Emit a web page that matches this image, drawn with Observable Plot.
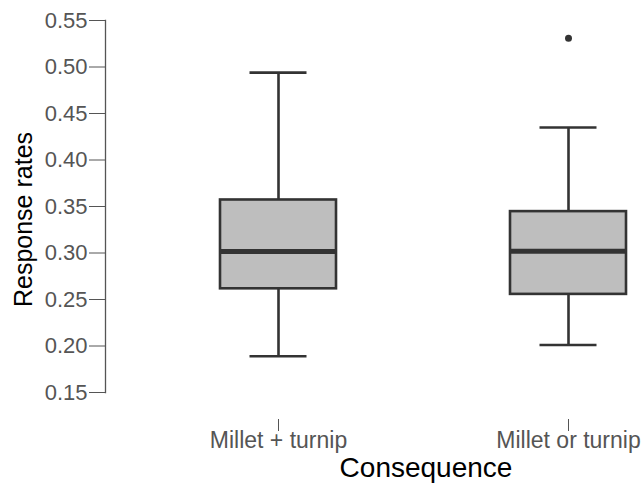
<!DOCTYPE html>
<html>
<head>
<meta charset="utf-8">
<script src="https://cdn.jsdelivr.net/npm/d3@7"></script>
<script src="https://cdn.jsdelivr.net/npm/@observablehq/plot@0.6"></script>
<style>
  html, body { margin: 0; padding: 0; background: #fff; }
  #chart svg { display: block; }
</style>
</head>
<body>
<div id="chart"></div>
<script>
const categories = ["Millet + turnip", "Millet or turnip"];
const lowerWhisker = [0.189, 0.201];
const q1 = [0.2615, 0.2555];
const median = [0.3015, 0.302];
const q3 = [0.357, 0.3445];
const upperWhisker = [0.494, 0.435];
const outlierCategory = ["Millet or turnip"];
const outlierValue = [0.531];
const yTicks = [0.15, 0.20, 0.25, 0.30, 0.35, 0.40, 0.45, 0.50, 0.55];

const boxes = categories.map((c, i) => ({
  cat: c, lo: lowerWhisker[i], q1: q1[i], med: median[i], q3: q3[i], hi: upperWhisker[i]
}));
const outliers = outlierCategory.map((c, i) => ({cat: c, v: outlierValue[i]}));

const font = "'Liberation Sans', Arial, Helvetica, sans-serif";
const dark = "#333333";

const chart = Plot.plot({
  width: 644,
  height: 483,
  marginTop: 20,
  marginBottom: 91,
  marginLeft: 105,
  marginRight: 0,
  style: {fontFamily: font, fontSize: "22px", background: "#fff"},
  x: {type: "band", domain: categories, range: [220, 626], paddingInner: 0.6, paddingOuter: 0},
  y: {domain: [0.15, 0.55]},
  marks: [
    Plot.frame({anchor: "left", stroke: "#555", strokeWidth: 1.3}),
    Plot.axisY({ticks: yTicks, tickFormat: d3.format(".2f"), tickSize: 16, tickPadding: 2,
      stroke: "#555", color: "#555", label: null, fontSize: 22}),
    Plot.axisX({tickSize: 12, tickPadding: 0, dy: 27, stroke: "#555", color: "#555",
      label: null, fontSize: 23}),
    Plot.ruleX(boxes, {x: "cat", y1: "lo", y2: "q1", stroke: dark, strokeWidth: 2.6}),
    Plot.ruleX(boxes, {x: "cat", y1: "q3", y2: "hi", stroke: dark, strokeWidth: 2.6}),
    Plot.tickY(boxes, {x: "cat", y: "lo", stroke: dark, strokeWidth: 2.6, insetLeft: 29.5, insetRight: 29.5}),
    Plot.tickY(boxes, {x: "cat", y: "hi", stroke: dark, strokeWidth: 2.6, insetLeft: 29.5, insetRight: 29.5}),
    Plot.barY(boxes, {x: "cat", y1: "q1", y2: "q3", fill: "#bebebe", stroke: dark, strokeWidth: 2.6}),
    Plot.tickY(boxes, {x: "cat", y: "med", stroke: dark, strokeWidth: 5}),
    Plot.dot(outliers, {x: "cat", y: "v", r: 3.5, fill: dark, stroke: "none"}),
    Plot.text(["Consequence"], {frameAnchor: "bottom", lineAnchor: "bottom", dx: 51, dy: 84, fontSize: 28, fill: "#000"}),
    Plot.text(["Response rates"], {frameAnchor: "left", textAnchor: "middle", rotate: -90, dx: -82, dy: 13, fontSize: 25, fill: "#000"})
  ]
});
document.getElementById("chart").appendChild(chart);
</script>
</body>
</html>
